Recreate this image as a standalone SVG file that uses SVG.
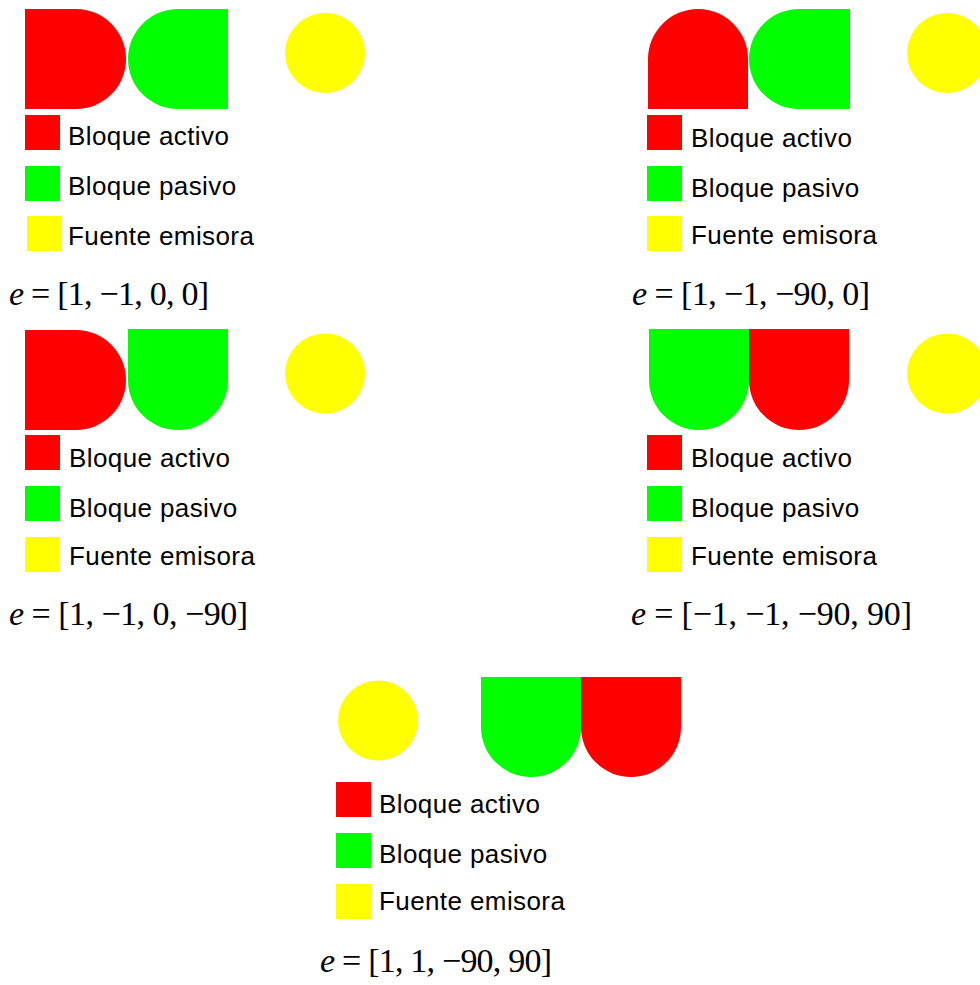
<svg xmlns="http://www.w3.org/2000/svg" width="980" height="985" viewBox="0 0 980 985">
  <style>
    .active { fill: #ff0000; }
    .passive { fill: #00ff00; }
    .source { fill: #ffff00; }
    .lbl { font-family: "Liberation Sans", Arial, Helvetica, sans-serif; font-size: 26px; letter-spacing: 0.4px; fill: #000; }
    .eq { font-family: "Liberation Serif", "Times New Roman", serif; font-size: 34px; fill: #000; }
    .eq .v { font-style: italic; }
  </style>
  <rect width="980" height="985" fill="#fff"/>

  <!-- e = [1, -1, 0, 0] -->
  <g id="panel-1">
    <g id="p1-active"><path class="active" d="M25,9 H76 A50,50 0 0 1 76,109 H25 Z"/></g>
    <g id="p1-passive"><path class="passive" d="M228,9 H178 A50,50 0 0 0 178,109 H228 Z"/></g>
    <g id="p1-source"><circle class="source" cx="325" cy="53" r="40"/></g>
    <g id="p1-legend">
      <rect class="active" x="25" y="115" width="35" height="35"/>
      <rect class="passive" x="25" y="166" width="35" height="35"/>
      <rect class="source" x="27" y="216" width="35" height="35"/>
      <text class="lbl" x="68" y="144.5">Bloque activo</text>
      <text class="lbl" x="68" y="195">Bloque pasivo</text>
      <text class="lbl" x="68" y="245">Fuente emisora</text>
    </g>
    <text class="eq" x="9" y="305" textLength="200" lengthAdjust="spacing"><tspan class="v">e</tspan> = [1, −1, 0, 0]</text>
  </g>

  <!-- e = [1, -1, -90, 0] -->
  <g id="panel-2">
    <g id="p2-active"><path class="active" d="M648,109 V59 A50,50 0 0 1 748,59 V109 Z"/></g>
    <g id="p2-passive"><path class="passive" d="M850,9 H799 A50,50 0 0 0 799,109 H850 Z"/></g>
    <g id="p2-source"><circle class="source" cx="947" cy="53" r="40"/></g>
    <g id="p2-legend">
      <rect class="active" x="647" y="115" width="35" height="35"/>
      <rect class="passive" x="647" y="166" width="35" height="35"/>
      <rect class="source" x="647" y="216" width="35" height="35"/>
      <text class="lbl" x="691" y="146.5">Bloque activo</text>
      <text class="lbl" x="691" y="196.5">Bloque pasivo</text>
      <text class="lbl" x="691" y="243.5">Fuente emisora</text>
    </g>
    <text class="eq" x="632" y="305" textLength="238" lengthAdjust="spacing"><tspan class="v">e</tspan> = [1, −1, −90, 0]</text>
  </g>

  <!-- e = [1, -1, 0, -90] -->
  <g id="panel-3">
    <g id="p3-active"><path class="active" d="M25,330 H76 A50,50 0 0 1 76,430 H25 Z"/></g>
    <g id="p3-passive"><path class="passive" d="M128,329 H228 V380 A50,50 0 0 1 128,380 Z"/></g>
    <g id="p3-source"><circle class="source" cx="325" cy="373.5" r="40"/></g>
    <g id="p3-legend">
      <rect class="active" x="25" y="435" width="35" height="35"/>
      <rect class="passive" x="25" y="486" width="35" height="35"/>
      <rect class="source" x="25" y="537" width="35" height="35"/>
      <text class="lbl" x="69" y="466.5">Bloque activo</text>
      <text class="lbl" x="69" y="516.5">Bloque pasivo</text>
      <text class="lbl" x="69" y="565">Fuente emisora</text>
    </g>
    <text class="eq" x="9" y="625" textLength="239" lengthAdjust="spacing"><tspan class="v">e</tspan> = [1, −1, 0, −90]</text>
  </g>

  <!-- e = [-1, -1, -90, 90] -->
  <g id="panel-4">
    <g id="p4-passive"><path class="passive" d="M649,329 H749 V380 A50,50 0 0 1 649,380 Z"/></g>
    <g id="p4-active"><path class="active" d="M749,329 H849 V380 A50,50 0 0 1 749,380 Z"/></g>
    <g id="p4-source"><circle class="source" cx="947" cy="373.5" r="40"/></g>
    <g id="p4-legend">
      <rect class="active" x="647" y="435" width="35" height="35"/>
      <rect class="passive" x="647" y="486" width="35" height="35"/>
      <rect class="source" x="647" y="537" width="35" height="35"/>
      <text class="lbl" x="691" y="466.5">Bloque activo</text>
      <text class="lbl" x="691" y="516.5">Bloque pasivo</text>
      <text class="lbl" x="691" y="565">Fuente emisora</text>
    </g>
    <text class="eq" x="631" y="625" textLength="281" lengthAdjust="spacing"><tspan class="v">e</tspan> = [−1, −1, −90, 90]</text>
  </g>

  <!-- e = [1, 1, -90, 90] -->
  <g id="panel-5">
    <g id="p5-source"><circle class="source" cx="378" cy="720.5" r="40"/></g>
    <g id="p5-passive"><path class="passive" d="M481,677 H581 V727 A50,50 0 0 1 481,727 Z"/></g>
    <g id="p5-active"><path class="active" d="M581,677 H681 V727 A50,50 0 0 1 581,727 Z"/></g>
    <g id="p5-legend">
      <rect class="active" x="336" y="782" width="35" height="35"/>
      <rect class="passive" x="336" y="833" width="35" height="35"/>
      <rect class="source" x="336" y="884" width="35" height="35"/>
      <text class="lbl" x="379" y="813">Bloque activo</text>
      <text class="lbl" x="379" y="863">Bloque pasivo</text>
      <text class="lbl" x="379" y="910">Fuente emisora</text>
    </g>
    <text class="eq" x="320" y="972" textLength="232" lengthAdjust="spacing"><tspan class="v">e</tspan> = [1, 1, −90, 90]</text>
  </g>
</svg>
